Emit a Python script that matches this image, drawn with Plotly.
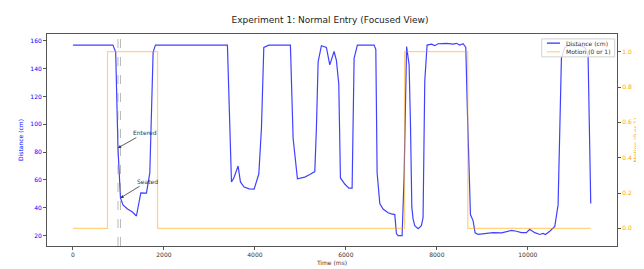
import plotly.graph_objects as go
import numpy as np

# ---- data ----
time_ms = [0, 880, 940, 990, 1045, 1100, 1200, 1300, 1396, 1492, 1616, 1690, 1763, 1814,
           3396, 3485, 3537, 3631, 3682, 3763, 3873, 3983, 4086, 4144, 4196, 4306,
           4781, 4840, 4935, 5097, 5207, 5317, 5352, 5390, 5462, 5572, 5646, 5741, 5792, 5844,
           5880, 5976, 6064, 6137, 6181, 6253, 6620, 6658, 6687, 6746, 6818, 6928, 7001, 7075,
           7111, 7148, 7236, 7280, 7335, 7390, 7420, 7450, 7478, 7514, 7587, 7660, 7697, 7734,
           7785, 7880, 7954, 8027, 8210, 8357, 8430, 8504, 8577, 8636, 8672, 8709, 8738, 8797,
           8841, 8906, 9089, 9236, 9419, 9639, 9749, 9858, 9968, 10042, 10152, 10262, 10335,
           10386, 10482, 10592, 10665, 10702, 10738, 10811, 10884, 11141, 11251, 11324, 11383]
distance_cm = [157, 157, 152, 83, 47, 42, 39, 37, 34, 50.7, 50.5, 65, 152, 157,
               157, 58.5, 61.4, 70, 58.5, 54.8, 53.5, 53.3, 64.2, 97, 155.4, 157,
               157, 90, 60.8, 62, 63.8, 66, 97, 145, 156.6, 155.4, 142.8, 152.4, 146, 129,
               61.4, 57, 54, 54, 147.4, 157, 157, 154, 65, 43, 39, 36.3, 35.5, 35,
               21.4, 19.8, 19.8, 62.6, 156, 142.8, 100, 40, 31.7, 27, 24.8, 27, 32.8, 131,
               157, 157.7, 156.6, 158, 158.3, 157.7, 158.3, 157, 158, 155.4, 108.5, 55.7, 35, 30.5,
               21.9, 20.7, 21.4, 22, 21.9, 23.6, 23, 22, 22, 24.4, 22, 20.7, 21.4,
               20.7, 23, 26.4, 42, 97, 147.4, 155.4, 156.6, 156.6, 155.4, 149.7, 43]

motion_time_ms = [0, 760, 1860, 7290, 8680, 11383]
motion_value = [0, 1, 0, 1, 0, 0]

event_names = ["Entered", "Seated"]
event_times = [990, 1045]

x_ticks = [0, 2000, 4000, 6000, 8000, 10000]
y_ticks = [20, 40, 60, 80, 100, 120, 140, 160]
y2_ticks = [0.0, 0.2, 0.4, 0.6, 0.8, 1.0]

series_names = ["Distance (cm)", "Motion (0 or 1)"]
BLUE = "rgba(0,0,255,0.75)"
ORANGE = "rgba(255,165,0,0.5)"

# ---- figure ----
FONT = "DejaVu Sans"
fig = go.Figure()
fig.add_trace(go.Scatter(x=time_ms, y=distance_cm, mode="lines", name=series_names[0],
                         line=dict(color=BLUE, width=1.2), yaxis="y"))
fig.add_trace(go.Scatter(x=motion_time_ms, y=motion_value, mode="lines", name=series_names[1],
                         line=dict(color=ORANGE, width=1.2, shape="hv"), yaxis="y2"))

label_offsets = [(600, 11), (600, 12)]
for name, t, (dx, dy) in zip(event_names, event_times, label_offsets):
    d = float(np.interp(t, time_ms, distance_cm))
    fig.add_shape(type="line", xref="x", yref="paper", x0=t, x1=t, y0=0, y1=1,
                  line=dict(color="rgba(128,128,128,0.55)", width=1, dash="dash"))
    fig.add_annotation(x=t, y=d, xref="x", yref="y", ax=t + dx, ay=d + dy, axref="x", ayref="y",
                       text=name, showarrow=True, arrowhead=2, arrowsize=0.8, arrowwidth=0.8,
                       arrowcolor="#333", font=dict(size=6, color="#333", family=FONT))

# custom compact legend (matplotlib style)
fig.add_shape(type="rect", xref="x domain", yref="y domain", x0=0.868, x1=0.996, y0=0.892, y1=0.977,
              line=dict(color="#d0d0d0", width=1), fillcolor="rgba(255,255,255,0.8)", layer="above")
for name, col, yy in zip(series_names, ["rgba(0,0,255,0.85)", ORANGE], [0.957, 0.916]):
    fig.add_shape(type="line", xref="x domain", yref="y domain", x0=0.877, x1=0.900, y0=yy, y1=yy,
                  line=dict(color=col, width=1.2), layer="above")
    fig.add_annotation(xref="x domain", yref="y domain", x=0.907, y=yy, text=name, showarrow=False,
                       xanchor="left", yanchor="middle", font=dict(size=6, color="#333", family=FONT))

axis_line = dict(showline=True, linecolor="#555", linewidth=1, ticks="outside",
                 ticklen=3, tickcolor="#555", showgrid=False, zeroline=False)

fig.update_layout(
    width=644, height=269,
    margin=dict(l=39, r=35, t=26, b=21),
    paper_bgcolor="white", plot_bgcolor="white",
    font=dict(family=FONT, size=6, color="#333"),
    title=dict(text="Experiment 1: Normal Entry (Focused View)", x=0.5, xanchor="center",
               y=0.955, yanchor="middle", font=dict(size=9, color="#222", family=FONT)),
    xaxis=dict(range=[-570, 11960], tickvals=x_ticks, tickformat="d", mirror=True,
               title=dict(text="Time (ms)", standoff=3, font=dict(size=6, color="#333")),
               tickfont=dict(size=6, color="#333"), **axis_line),
    yaxis=dict(range=[12.4, 165], tickvals=y_ticks, mirror=False,
               title=dict(text="Distance (cm)", standoff=6, font=dict(size=6, color="blue")),
               tickfont=dict(size=6, color="blue"), **axis_line),
    yaxis2=dict(range=[-0.1, 1.1], tickvals=y2_ticks, tickformat=".1f", overlaying="y", side="right",
                title=dict(text="Motion (0 or 1)", standoff=2, font=dict(size=6, color="orange")),
                tickfont=dict(size=6, color="orange"), **axis_line),
    showlegend=False,
)

fig.write_html("out.html")
